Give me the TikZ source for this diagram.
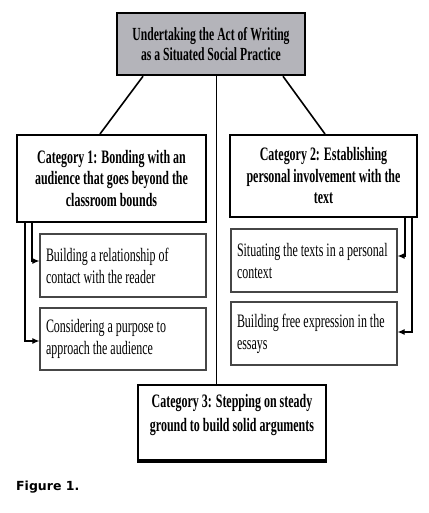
\documentclass[tikz,border=0pt]{standalone}
\usepackage{fontspec}
\setmainfont{Liberation Serif}
\newfontfamily\narrowserif[FakeStretch=0.63]{Liberation Serif}
\newfontfamily\figfont{DejaVu Sans}
\usetikzlibrary{arrows,arrows.meta}
\usetikzlibrary{calc}

\definecolor{headgray}{RGB}{180,180,186}
\definecolor{subline}{RGB}{70,70,70}

\tikzset{
  headbox/.style={draw=black, line width=2.5pt, fill=headgray, minimum width=188, minimum height=62,
    align=center, inner sep=0, font=\narrowserif\bfseries\fontsize{18.5}{20}\selectfont},
  catbox/.style={draw=black, line width=2pt, fill=white, inner sep=0, align=flush center,
    font=\narrowserif\bfseries\fontsize{19}{21.5}\selectfont},
  subbox/.style={draw=subline, line width=1.2pt, fill=white, minimum width=166, minimum height=63,
    text width=154, align=flush left, inner sep=0, font=\narrowserif\fontsize{19}{22}\selectfont},
  arrline/.style={line width=1.1pt, black},
}

\begin{document}
\begin{tikzpicture}[x=1pt, y=-1pt, >={Latex[length=7pt,width=6pt]}]
    \useasboundingbox (0,0) rectangle (428,513);

    % Kasten oben
    \node[headbox] (title) at (211,44) {Undertaking the Act of Writing\\as a Situated Social Practice};

    % Kategorien
    \node[catbox, minimum width=189, minimum height=87, text width=180] (catone) at (111.5,178.5)
        {Category 1: Bonding with an\\audience that goes beyond the\\classroom bounds};
    \node[catbox, minimum width=187, minimum height=82, text width=180] (cattwo) at (323.5,176)
        {Category 2: Establishing\\personal involvement with the\\text};
    \node[catbox, minimum width=188, minimum height=75] (catthree) at (232,422.5) {};
    \node[font=\narrowserif\bfseries\fontsize{19}{24}\selectfont, align=center, inner sep=0] (catthreetext) at (232,415)
        {Category 3: Stepping on steady\\ground to build solid arguments};
    \draw[line width=2pt] ([yshift=-1pt]catthree.south west) -- ([yshift=-1pt]catthree.south east);

    % Unterpunkte
    \node[subbox] (bondone) at (123,265.5) {Building a relationship of\\contact with the reader};
    \node[subbox, minimum height=62] (bondtwo) at (123,339) {Considering a purpose to\\approach the audience};
    \node[subbox] (invone) at (314,260.5) {Situating the texts in a personal\\context};
    \node[subbox] (invtwo) at (314,333.5) {Building free expression in the\\essays};

    % Verbindungen
    \draw[line width=1.6pt] ([xshift=-68]title.south) -- ([xshift=-11.5]catone.north);
    \draw[line width=1.6pt] ([xshift=72]title.south) -- ([xshift=1.5]cattwo.north);
    \draw[line width=1pt] ([xshift=5]title.south) -- ([xshift=-16]catthree.north);

    \draw[arrline, ->] ([xshift=16]catone.south west) |- ([yshift=4.5]bondone.west);
    \draw[arrline, ->] ([xshift=9]catone.south west) |- ([yshift=-2]bondtwo.west);
    \draw[arrline, ->] ([xshift=-13]cattwo.south east) |- ([yshift=4.5]invone.east);
    \draw[arrline, ->] ([xshift=-6]cattwo.south east) |- ([yshift=1.5]invtwo.east);

    \node[anchor=base west, inner sep=0, font=\figfont\bfseries\fontsize{12.5}{14}\selectfont] (figcap) at (16,490) {Figure 1.};
\end{tikzpicture}
\end{document}
